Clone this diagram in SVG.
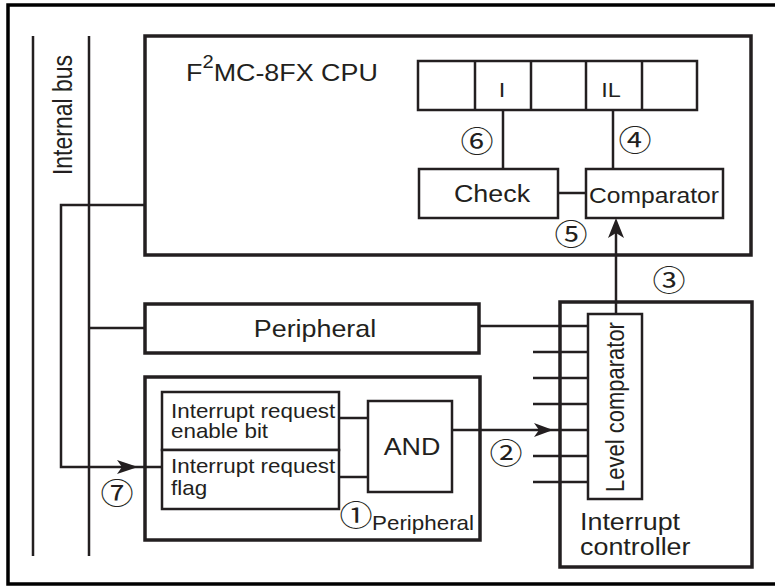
<svg xmlns="http://www.w3.org/2000/svg" width="775" height="587" viewBox="0 0 775 587">
<style>
.b{fill:#fff;stroke:#231f20;stroke-width:3.5}
.s{fill:#fff;stroke:#231f20;stroke-width:2.5}
.l{fill:none;stroke:#231f20;stroke-width:2.5}
.a{fill:#231f20;stroke:none}
text{font-family:"Liberation Sans",Arial,sans-serif;fill:#231f20}
.c{font-family:"Noto Sans CJK JP","DejaVu Sans",sans-serif;font-size:28px;text-anchor:middle}
.m{text-anchor:middle}
</style>
<rect width="775" height="587" fill="#fff"/>
<path d="M775,5 H8 V584 H775" fill="none" stroke="#000" stroke-width="3.5"/>
<g id="bus">
<line class="l" x1="33" y1="36" x2="33" y2="556"/>
<line class="l" x1="89" y1="36" x2="89" y2="556"/>
<text font-size="23" class="m" transform="translate(72,115) scale(1.2,1) rotate(-90)">Internal bus</text>
</g>
<g id="cpu">
<rect class="b" x="145" y="36" width="606" height="219"/>
<text font-size="24" transform="translate(186,81) scale(1.12,1)">F<tspan font-size="18" dy="-13">2</tspan><tspan dy="13">MC-8FX CPU</tspan></text>
</g>
<g id="registers">
<rect class="s" x="418" y="61" width="279" height="49"/>
<line class="l" x1="475" y1="61" x2="475" y2="110"/>
<line class="l" x1="531" y1="61" x2="531" y2="110"/>
<line class="l" x1="586" y1="61" x2="586" y2="110"/>
<line class="l" x1="642" y1="61" x2="642" y2="110"/>
<text font-size="21" class="m" transform="translate(502,97) scale(1.12,1)">I</text>
<text font-size="21" class="m" transform="translate(611,97) scale(1.12,1)">IL</text>
</g>
<g id="check">
<rect class="s" x="419" y="169" width="139" height="49"/>
<text font-size="24" class="m" transform="translate(492,202) scale(1.12,1)">Check</text>
</g>
<g id="comparator">
<rect class="s" x="586" y="169" width="137" height="49"/>
<text font-size="22" class="m" transform="translate(654,203) scale(1.12,1)">Comparator</text>
</g>
<g id="peripheral1">
<rect class="b" x="145" y="304" width="334" height="49"/>
<text font-size="24" class="m" transform="translate(315,337) scale(1.12,1)">Peripheral</text>
</g>
<g id="peripheral2">
<rect class="b" x="145" y="377" width="335" height="163"/>
<text font-size="20" transform="translate(372,530) scale(1.12,1)">Peripheral</text>
</g>
<g id="enable">
<rect class="s" x="162" y="392" width="177" height="58"/>
<text font-size="20" transform="translate(171,418) scale(1.12,1)">Interrupt request</text>
<text font-size="20" transform="translate(171,438) scale(1.12,1)">enable bit</text>
</g>
<g id="flag">
<rect class="s" x="162" y="450" width="177" height="59"/>
<text font-size="20" transform="translate(171,473) scale(1.12,1)">Interrupt request</text>
<text font-size="20" transform="translate(171,495) scale(1.12,1)">flag</text>
</g>
<g id="and">
<rect class="s" x="368" y="401" width="84" height="91"/>
<text font-size="24" class="m" transform="translate(412,455) scale(1.12,1)">AND</text>
</g>
<g id="controller">
<rect class="b" x="560" y="302" width="192" height="265"/>
<text font-size="24" transform="translate(580,530) scale(1.12,1)">Interrupt</text>
<text font-size="24" transform="translate(580,555) scale(1.12,1)">controller</text>
</g>
<g id="level">
<rect class="s" x="588" y="314" width="54" height="185"/>
<text font-size="22" class="m" transform="translate(624,407) scale(1.18,1) rotate(-90)">Level comparator</text>
</g>
<g id="connectors">
<line class="l" x1="503" y1="110" x2="503" y2="169"/>
<line class="l" x1="613" y1="110" x2="613" y2="169"/>
<line class="l" x1="558" y1="193" x2="586" y2="193"/>
<path class="l" d="M145,205 H61 V467 H162"/>
<polygon class="a" points="138,467 117,460 122,467 117,474"/>
<line class="l" x1="616" y1="314" x2="616" y2="225"/>
<polygon class="a" points="616,218 608,238 616,233 624,238"/>
<line class="l" x1="89" y1="328" x2="145" y2="328"/>
<line class="l" x1="479" y1="326" x2="588" y2="326"/>
<line class="l" x1="533" y1="352" x2="588" y2="352"/>
<line class="l" x1="533" y1="378" x2="588" y2="378"/>
<line class="l" x1="533" y1="404" x2="588" y2="404"/>
<line class="l" x1="452" y1="430" x2="588" y2="430"/>
<polygon class="a" points="553,430 534,423 539,430 534,437"/>
<line class="l" x1="533" y1="456" x2="588" y2="456"/>
<line class="l" x1="533" y1="482" x2="588" y2="482"/>
<line class="l" x1="339" y1="418" x2="368" y2="418"/>
<line class="l" x1="339" y1="477" x2="368" y2="477"/>
</g>
<g id="labels">
<text class="c" transform="translate(477,152) scale(1.18,1)">⑥</text>
<text class="c" transform="translate(635,151) scale(1.18,1)">④</text>
<text class="c" transform="translate(571,245) scale(1.18,1)">⑤</text>
<text class="c" transform="translate(669,291) scale(1.18,1)">③</text>
<text class="c" transform="translate(506,464) scale(1.18,1)">②</text>
<text class="c" transform="translate(117,504) scale(1.18,1)">⑦</text>
<text class="c" transform="translate(356,526) scale(1.18,1)">①</text>
</g>
</svg>
